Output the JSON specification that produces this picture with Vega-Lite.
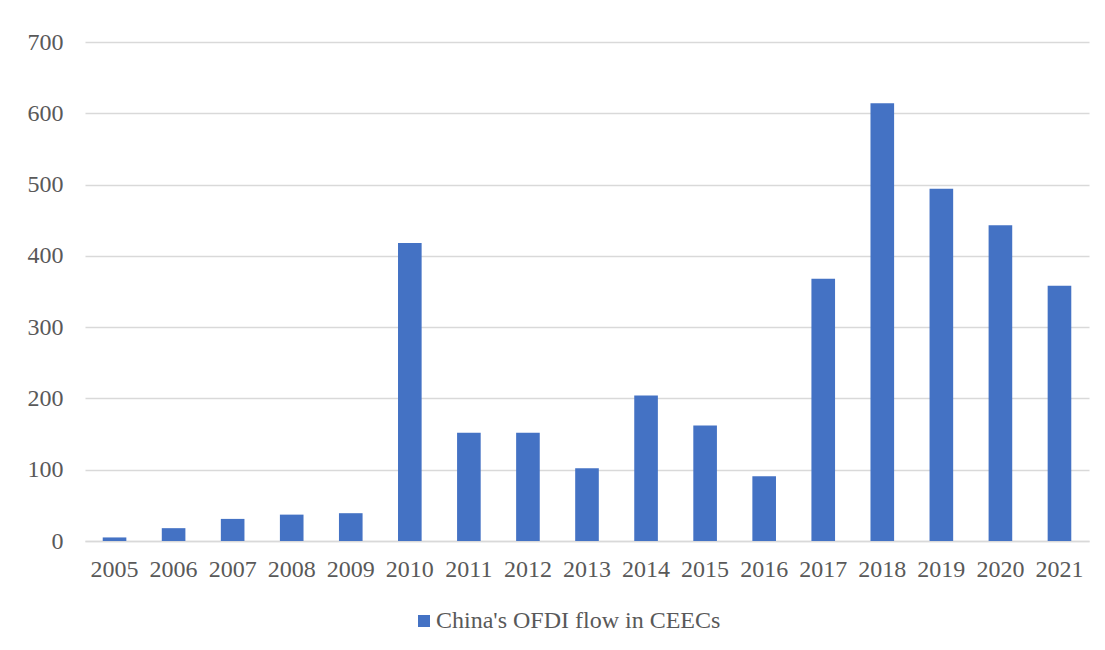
{
  "$schema": "https://vega.github.io/schema/vega-lite/v6.json",
  "autosize": {"type": "none"},
  "width": 1004,
  "height": 499,
  "padding": {"left": 85, "top": 42, "right": 16, "bottom": 109},
  "background": "white",
  "data": {
    "values": [
      {"year": "2005", "flow": 5, "series": "China's OFDI flow in CEECs"},
      {"year": "2006", "flow": 18, "series": "China's OFDI flow in CEECs"},
      {"year": "2007", "flow": 31, "series": "China's OFDI flow in CEECs"},
      {"year": "2008", "flow": 37, "series": "China's OFDI flow in CEECs"},
      {"year": "2009", "flow": 39, "series": "China's OFDI flow in CEECs"},
      {"year": "2010", "flow": 418, "series": "China's OFDI flow in CEECs"},
      {"year": "2011", "flow": 152, "series": "China's OFDI flow in CEECs"},
      {"year": "2012", "flow": 152, "series": "China's OFDI flow in CEECs"},
      {"year": "2013", "flow": 102, "series": "China's OFDI flow in CEECs"},
      {"year": "2014", "flow": 204, "series": "China's OFDI flow in CEECs"},
      {"year": "2015", "flow": 162, "series": "China's OFDI flow in CEECs"},
      {"year": "2016", "flow": 91, "series": "China's OFDI flow in CEECs"},
      {"year": "2017", "flow": 368, "series": "China's OFDI flow in CEECs"},
      {"year": "2018", "flow": 614, "series": "China's OFDI flow in CEECs"},
      {"year": "2019", "flow": 494, "series": "China's OFDI flow in CEECs"},
      {"year": "2020", "flow": 443, "series": "China's OFDI flow in CEECs"},
      {"year": "2021", "flow": 358, "series": "China's OFDI flow in CEECs"}
    ]
  },
  "mark": {"type": "bar"},
  "encoding": {
    "x": {
      "field": "year",
      "type": "ordinal",
      "scale": {"paddingInner": 0.6, "paddingOuter": 0.3},
      "axis": {
        "title": null,
        "labelAngle": 0,
        "ticks": false,
        "domainColor": "#d9d9d9",
        "domainWidth": 1.5,
        "labelPadding": 16,
        "grid": false
      }
    },
    "y": {
      "field": "flow",
      "type": "quantitative",
      "scale": {"domain": [0, 700], "nice": false},
      "axis": {
        "title": null,
        "values": [0, 100, 200, 300, 400, 500, 600, 700],
        "ticks": false,
        "domain": false,
        "labelPadding": 22,
        "gridColor": "#d9d9d9",
        "gridWidth": 1.5
      }
    },
    "color": {
      "field": "series",
      "type": "nominal",
      "scale": {"range": ["#4472c4"]},
      "legend": {
        "title": null,
        "orient": "none",
        "legendX": 327,
        "legendY": 567,
        "padding": 0,
        "symbolType": "square",
        "symbolSize": 144,
        "symbolStrokeWidth": 0,
        "labelOffset": 0
      }
    }
  },
  "config": {
    "view": {"stroke": null},
    "axis": {
      "labelFont": "Liberation Serif",
      "labelFontSize": 24,
      "labelColor": "#595959"
    },
    "legend": {
      "labelFont": "Liberation Serif",
      "labelFontSize": 24,
      "labelColor": "#595959",
      "labelLimit": 0
    }
  }
}
